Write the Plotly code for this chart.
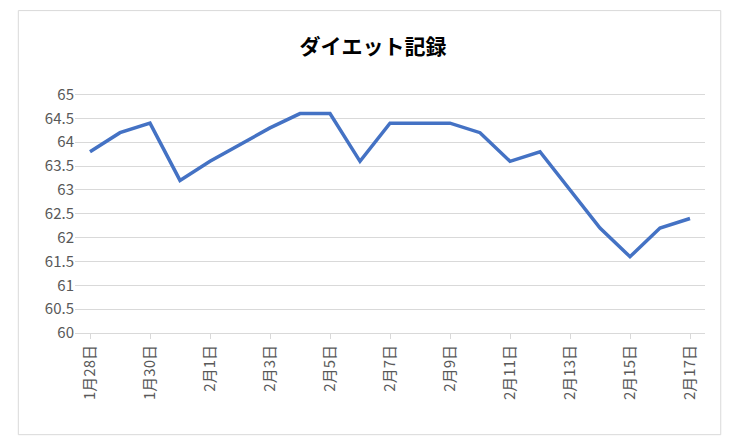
import plotly.graph_objects as go

dates = ["1月28日","1月29日","1月30日","1月31日","2月1日","2月2日","2月3日","2月4日","2月5日","2月6日",
         "2月7日","2月8日","2月9日","2月10日","2月11日","2月12日","2月13日","2月14日","2月15日","2月16日","2月17日"]
weights = [63.8,64.2,64.4,63.2,63.6,63.95,64.3,64.6,64.6,63.6,
           64.4,64.4,64.4,64.2,63.6,63.8,63.0,62.2,61.6,62.2,62.4]
yticks = [60,60.5,61,61.5,62,62.5,63,63.5,64,64.5,65]

fig = go.Figure(go.Scatter(x=dates, y=weights, mode="lines",
                           line=dict(color="#4472C4", width=3.5)))
font = "Noto Sans CJK JP, sans-serif"
fig.update_layout(
    width=730, height=442, paper_bgcolor="white", plot_bgcolor="white",
    margin=dict(l=67, r=33, t=77, b=117),
    title=dict(text="<b>ダイエット記録</b>", x=0.5, xanchor="center", y=0.93,
               font=dict(family=font, size=21, color="#000")),
    font=dict(family=font, color="#595959", size=15),
    showlegend=False,
    xaxis=dict(type="category", categoryarray=dates, tickvals=dates[::2], tickangle=-90,
               showgrid=False, showline=True, linecolor="#D9D9D9", ticks="outside",
               tickcolor="#D9D9D9", ticklen=5, range=[-0.5, 20.5]),
    yaxis=dict(range=[60, 65.2], tickvals=yticks, ticktext=[f"{v:g}" for v in yticks],
               showgrid=True, gridcolor="#D9D9D9", zeroline=False, ticks=""),
    shapes=[dict(type="rect", xref="paper", yref="paper", x0=-0.09, x1=1.025, y0=-0.41, y1=1.3,
                 line=dict(color="#D9D9D9", width=1))]
)
fig.write_html("out.html")
